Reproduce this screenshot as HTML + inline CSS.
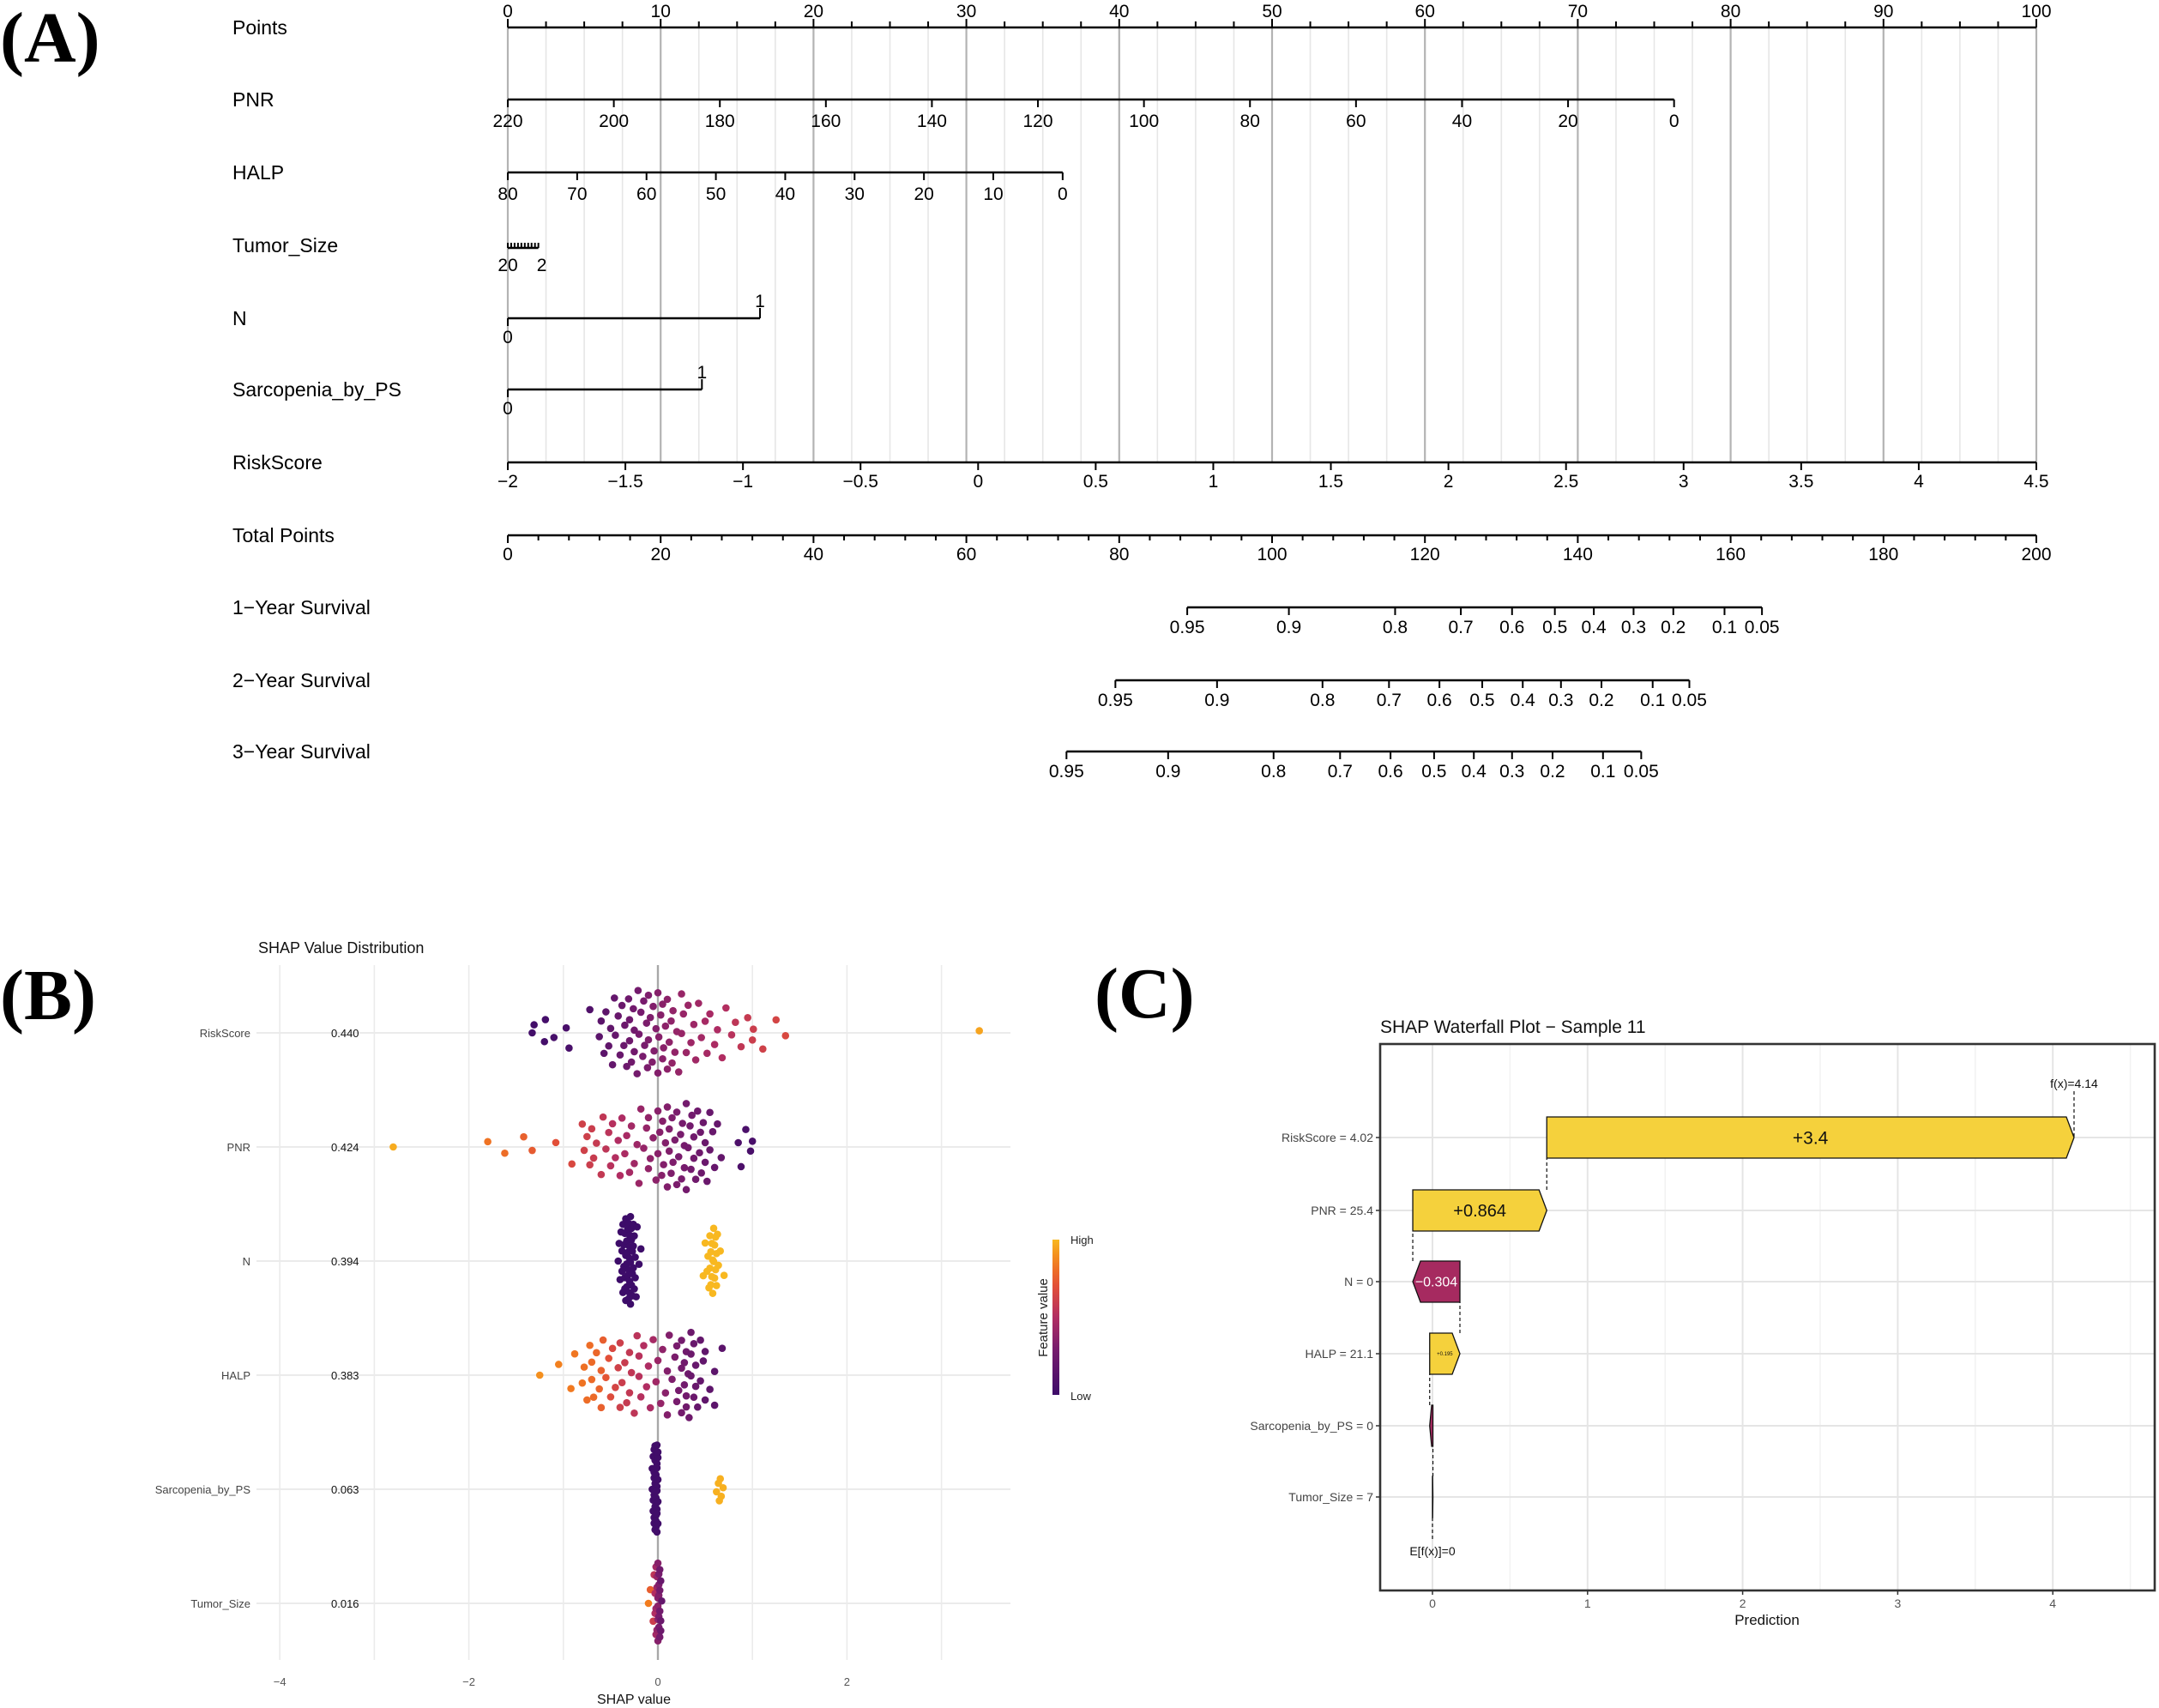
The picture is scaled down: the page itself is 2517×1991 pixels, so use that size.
<!DOCTYPE html>
<html><head><meta charset="utf-8"><style>
html,body{margin:0;padding:0;background:#fff;}
svg{display:block;font-family:"Liberation Sans",Arial,sans-serif;}
</style></head><body>
<svg id="fig" width="2517" height="1991" viewBox="0 0 2517 1991" xmlns="http://www.w3.org/2000/svg">
<rect width="2517" height="1991" fill="#fff"/>
<g id="panelA"></g>
<g id="panelB"></g>
<g id="panelC"></g>
</svg>
<script>
// ===== Panel A data =====
const pointsTicks = [0,10,20,30,40,50,60,70,80,90,100];
const pnrTicks = [220,200,180,160,140,120,100,80,60,40,20,0];
const pnrMax = 220, pnrMaxPts = 76.3;
const halpTicks = [80,70,60,50,40,30,20,10,0];
const halpMax = 80, halpMaxPts = 36.3;
const tumorTicks = [20,18,16,14,12,10,8,6,4,2];
const tumorLabels = ["20","2"];
const tumorMaxPts = 2.0;
const nPts = [0,16.5];
const nLabels = ["0","1"];
const sarcPts = [0,12.7];
const sarcLabels = ["0","1"];
const riskTicks = [-2,-1.5,-1,-0.5,0,0.5,1,1.5,2,2.5,3,3.5,4,4.5];
const totalTicks = [0,20,40,60,80,100,120,140,160,180,200];
const survLabels = ["0.95","0.9","0.8","0.7","0.6","0.5","0.4","0.3","0.2","0.1","0.05"];
const surv1Total = [88.9,102.2,116.1,124.7,131.4,137.0,142.1,147.3,152.5,159.2,164.1];
const surv2Total = [79.5,92.8,106.6,115.3,121.9,127.5,132.8,137.8,143.1,149.8,154.6];
const surv3Total = [73.1,86.4,100.2,108.9,115.5,121.2,126.4,131.4,136.7,143.3,148.3];

// ===== Panel B data =====
const featNames = ["RiskScore","PNR","N","HALP","Sarcopenia_by_PS","Tumor_Size"];
const featImportance = ["0.440","0.424","0.394","0.383","0.063","0.016"];
const bTicks = [-4,-2,0,2];
const rsShap = [-1.33,-1.31,-1.2,-1.19,-1.1,-0.97,-0.94,-0.72,-0.62,-0.6,
-0.57,-0.55,-0.52,-0.5,-0.48,-0.46,-0.45,-0.42,-0.4,-0.38,
-0.36,-0.35,-0.33,-0.31,-0.3,-0.28,-0.26,-0.25,-0.22,-0.21,
-0.2,-0.18,-0.16,-0.14,-0.12,-0.11,-0.1,-0.08,-0.06,-0.04,
-0.02,0,0.01,0.03,0.05,0.06,0.08,0.1,0.12,0.14,
0.16,0.18,0.2,0.22,0.25,0.27,0.3,0.32,0.35,0.38,
0.4,0.43,0.46,0.5,0.52,0.55,0.6,0.63,0.68,0.72,
0.78,0.82,0.88,0.95,1.0,1.01,1.11,1.25,1.35,3.4,
-0.3,-0.15,-0.05,0.05,0.15,0.25,-0.25,0.1,-0.1,0.0];
const rsFv = [.03,.03,.04,.04,.05,.06,.06,.1,.15,.15,
.16,.17,.18,.18,.2,.2,.2,.22,.22,.23,
.23,.24,.24,.25,.25,.26,.27,.27,.28,.28,
.29,.29,.3,.3,.31,.31,.32,.32,.33,.33,
.34,.34,.35,.35,.36,.36,.37,.37,.38,.38,
.39,.39,.4,.4,.41,.41,.42,.42,.43,.43,
.44,.44,.45,.46,.46,.47,.48,.49,.5,.51,
.53,.55,.56,.58,.6,.6,.62,.64,.66,.95,
.25,.3,.33,.36,.39,.41,.26,.37,.32,.35];
const pnrShap = [-2.8,-1.8,-1.62,-1.42,-1.33,-1.08,-0.91,-0.8,-0.78,-0.75,
-0.72,-0.7,-0.68,-0.65,-0.6,-0.58,-0.55,-0.52,-0.5,-0.48,
-0.45,-0.42,-0.4,-0.38,-0.35,-0.33,-0.3,-0.28,-0.25,-0.22,
-0.2,-0.18,-0.15,-0.12,-0.1,-0.08,-0.05,-0.02,0,0.02,
0.04,0.06,0.08,0.1,0.12,0.14,0.16,0.18,0.2,0.22,
0.24,0.26,0.28,0.3,0.32,0.34,0.36,0.38,0.4,0.42,
0.44,0.46,0.48,0.5,0.52,0.55,0.58,0.6,0.63,0.67,
0.85,0.88,0.93,0.98,1.0,0.1,0.2,0.3,0.0,-0.1,
0.05,0.15,0.25,0.35,0.45,0.55,0.12,0.28,0.38,0.5];
const pnrFv = [.97,.82,.8,.76,.74,.7,.66,.62,.62,.61,
.6,.6,.59,.58,.57,.56,.55,.54,.53,.52,
.51,.5,.5,.49,.48,.47,.46,.45,.44,.43,
.42,.41,.4,.4,.39,.38,.37,.37,.36,.35,
.35,.34,.34,.33,.33,.32,.32,.31,.31,.3,
.3,.29,.29,.28,.28,.27,.27,.26,.26,.25,
.25,.24,.24,.23,.23,.22,.22,.21,.21,.2,
.08,.08,.07,.06,.06,.34,.31,.28,.36,.39,
.35,.32,.3,.27,.25,.22,.33,.29,.26,.23];
const nShap = [-0.42,-0.4,-0.38,-0.37,-0.36,-0.35,-0.34,-0.33,-0.32,-0.31,
-0.3,-0.3,-0.29,-0.28,-0.27,-0.26,-0.25,-0.24,-0.23,-0.22,
-0.41,-0.39,-0.37,-0.35,-0.33,-0.31,-0.29,-0.27,-0.25,-0.2,
-0.36,-0.34,-0.32,-0.3,-0.28,-0.26,-0.34,-0.3,-0.28,-0.32,
-0.38,-0.33,-0.31,-0.29,-0.27,-0.24,-0.35,-0.3,-0.26,-0.18,
0.48,0.5,0.52,0.54,0.55,0.56,0.57,0.58,0.59,0.6,
0.61,0.62,0.63,0.64,0.66,0.56,0.58,0.6,0.62,0.53,
0.57,0.59,0.61,0.55,0.7];
const nFv = [0,0,0,0,0,0,0,0,0,0, 0,0,0,0,0,0,0,0,0,0, 0,0,0,0,0,0,0,0,0,0,
0,0,0,0,0,0,0,0,0,0, 0,0,0,0,0,0,0,0,0,0,
1,1,1,1,1,1,1,1,1,1, 1,1,1,1,1,1,1,1,1,1, 1,1,1,1,1];
const halpShap = [-1.25,-1.05,-0.92,-0.88,-0.8,-0.78,-0.75,-0.72,-0.7,-0.68,
-0.65,-0.62,-0.6,-0.58,-0.55,-0.52,-0.5,-0.48,-0.45,-0.42,
-0.4,-0.38,-0.35,-0.33,-0.3,-0.28,-0.25,-0.22,-0.2,-0.18,
-0.15,-0.12,-0.1,-0.08,-0.05,-0.02,0,0.03,0.05,0.08,
0.1,0.12,0.15,0.18,0.2,0.22,0.25,0.28,0.3,0.32,
0.35,0.38,0.4,0.42,0.45,0.48,0.5,0.55,0.6,0.68,
0.2,0.25,0.3,0.35,0.4,0.3,0.33,0.28,0.38,0.45,
-0.3,-0.6,-0.7,-0.4,-0.2,0.1,0.5,0.6,0.25,0.35];
const halpFv = [.9,.86,.84,.83,.82,.81,.8,.8,.79,.79,
.78,.77,.76,.75,.72,.7,.68,.66,.64,.62,
.61,.6,.59,.58,.57,.56,.55,.54,.53,.52,
.51,.5,.49,.48,.46,.44,.42,.4,.38,.36,
.34,.33,.32,.31,.3,.29,.28,.27,.26,.25,
.24,.23,.22,.21,.2,.19,.18,.17,.16,.15,
.3,.28,.26,.23,.21,.27,.25,.27,.22,.2,
.57,.76,.79,.61,.53,.34,.18,.16,.28,.24];
const sarcShap = [-0.06,-0.05,-0.05,-0.04,-0.04,-0.04,-0.03,-0.03,-0.03,-0.03,
-0.02,-0.02,-0.02,-0.02,-0.02,-0.01,-0.01,-0.01,-0.01,-0.01,
0,0,0,0,-0.05,-0.04,-0.03,-0.02,-0.01,0,
-0.06,-0.04,-0.03,-0.02,-0.01,-0.03,-0.02,-0.04,-0.01,-0.02,
0.62,0.64,0.65,0.66,0.67,0.69];
const sarcFv = [.02,.02,.02,.02,.02,.02,.02,.02,.02,.02, .02,.02,.02,.02,.02,.02,.02,.02,.02,.02,
.02,.02,.02,.02,.02,.02,.02,.02,.02,.02, .02,.02,.02,.02,.02,.02,.02,.02,.02,.02,
.98,.98,.98,.98,.98,.98];
const tumorShap = [-0.1,-0.08,-0.05,-0.04,-0.03,-0.02,-0.02,-0.01,-0.01,0,
0,0,0.01,0.01,0.02,0.02,0.03,0.03,0.04,0.01,
-0.01,0,0.02,-0.02,0.01,0,0.03,-0.03,0.02,0.01];
const tumorFv = [.85,.75,.6,.55,.5,.45,.45,.42,.4,.38,
.36,.35,.32,.3,.28,.26,.24,.22,.2,.3,
.42,.35,.27,.44,.3,.37,.23,.5,.28,.33];

// ===== Panel C data =====
const wfLabels = ["RiskScore = 4.02","PNR = 25.4","N = 0","HALP = 21.1","Sarcopenia_by_PS = 0","Tumor_Size = 7"];
const wfValues = [3.4,0.864,-0.304,0.195,-0.021,0.003];
const wfText = ["+3.4","+0.864","\u22120.304","+0.195","",""];
const wfBase = 0;
const wfTicks = [0,1,2,3,4];

const NS="http://www.w3.org/2000/svg";
function mk(parent, tag, attrs, text){
  const e=document.createElementNS(NS,tag);
  for(const k in attrs) e.setAttribute(k,attrs[k]);
  if(text!==undefined) e.textContent=text;
  parent.appendChild(e); return e;
}
const A=document.getElementById('panelA');
const B=document.getElementById('panelB');
const C=document.getElementById('panelC');

// ================= PANEL A =================
const px0=592, px1=2374;
function xPts(p){return px0+(px1-px0)*p/100;}
function xTot(t){return px0+(px1-px0)*t/200;}
function xRisk(v){return px0+(px1-px0)*(v+2)/6.5;}
let t;
t=mk(A,'text',{x:0,y:72,'font-family':'"Liberation Serif",serif','font-weight':'bold','font-size':84,fill:'#000'},'(A)');



for(let p=0;p<=100.01;p+=2.5){
  const maj=Math.abs(p%10)<0.01;
  const l=mk(A,'line',{x1:xPts(p),x2:xPts(p),y1:32,y2:539,stroke:maj?'#b3b3b3':'#e6e6e6','stroke-width':maj?2.2:1.6});
  
  
}
const rowLabels=[["Points",32],["PNR",116],["HALP",201],["Tumor_Size",286],["N",371],["Sarcopenia_by_PS",454],["RiskScore",539],["Total Points",624],["1\u2212Year Survival",708],["2\u2212Year Survival",793],["3\u2212Year Survival",876]];
rowLabels.forEach(r=>{
  const e=mk(A,'text',{x:271,y:r[1]+8,'font-size':23,fill:'#000'},r[0]);
  
  
});
function axisLine(x1,x2,y,name){
  const l=mk(A,'line',{x1:x1,x2:x2,y1:y,y2:y,stroke:'#000','stroke-width':2.6});
  
  
}
function tick(x,y,len){mk(A,'line',{x1:x,x2:x,y1:y,y2:y+len,stroke:'#000','stroke-width':2});}
function lab(x,y,s,name){
  const e=mk(A,'text',{x:x,y:y,'font-size':21,'text-anchor':'middle',fill:'#000'},s);
  
  
}
axisLine(px0,px1,32,'points-axis');
for(let p=0;p<=100.01;p+=2.5){tick(xPts(p),32,Math.abs(p%10)<0.01?-10:-7);}
pointsTicks.forEach(p=>lab(xPts(p),20,String(p),'points-tick-label'));
axisLine(xPts(0),xPts(pnrMaxPts),116,'pnr-axis');
pnrTicks.forEach(v=>{const x=xPts((pnrMax-v)/pnrMax*pnrMaxPts);tick(x,116,9);lab(x,148,String(v),'pnr-tick-label');});
axisLine(xPts(0),xPts(halpMaxPts),201,'halp-axis');
halpTicks.forEach(v=>{const x=xPts((halpMax-v)/halpMax*halpMaxPts);tick(x,201,9);lab(x,233,String(v),'halp-tick-label');});
axisLine(xPts(0),xPts(tumorMaxPts),289,'tumor-size-axis');
tumorTicks.forEach(v=>{const x=xPts((20-v)/18*tumorMaxPts);tick(x,283,6);});
lab(xPts(0),316,tumorLabels[0],'tumor-size-tick-label');
lab(xPts(tumorMaxPts)+4,316,tumorLabels[1],'tumor-size-tick-label');
axisLine(xPts(nPts[0]),xPts(nPts[1]),371,'n-axis');
tick(xPts(nPts[0]),371,9);tick(xPts(nPts[1]),371,-12);
lab(xPts(nPts[0]),400,nLabels[0],'n-tick-label');lab(xPts(nPts[1]),358,nLabels[1],'n-tick-label');
axisLine(xPts(sarcPts[0]),xPts(sarcPts[1]),454,'sarcopenia-axis');
tick(xPts(sarcPts[0]),454,9);tick(xPts(sarcPts[1]),454,-12);
lab(xPts(sarcPts[0]),483,sarcLabels[0],'sarcopenia-tick-label');lab(xPts(sarcPts[1]),441,sarcLabels[1],'sarcopenia-tick-label');
axisLine(px0,px1,539,'riskscore-axis');
riskTicks.forEach(v=>{const x=xRisk(v);tick(x,539,9);lab(x,568,v<0?'\u2212'+Math.abs(v):String(v),'riskscore-tick-label');});
axisLine(px0,px1,624,'total-points-axis');
for(let v=0;v<=200;v+=4){tick(xTot(v),624,v%20===0?9:6);}
totalTicks.forEach(v=>lab(xTot(v),653,String(v),'total-points-tick-label'));
[[surv1Total,708,'1-year'],[surv2Total,793,'2-year'],[surv3Total,876,'3-year']].forEach(s=>{
  const arr=s[0],y=s[1];
  axisLine(xTot(arr[0]),xTot(arr[arr.length-1]),y,'survival-axis-'+s[2]);
  arr.forEach((v,i)=>{const x=xTot(v);tick(x,y,9);lab(x,y+30,survLabels[i],'survival-tick-label-'+s[2]);});
});

// ================= PANEL B =================
function colorScale(v){
  const stops=[[0,[61,12,105]],[0.3,[120,28,109]],[0.5,[177,45,98]],[0.7,[226,79,56]],[0.85,[242,124,30]],[1,[248,184,32]]];
  v=Math.max(0,Math.min(1,v));
  for(let i=1;i<stops.length;i++){
    if(v<=stops[i][0]){
      const a=stops[i-1],b=stops[i],f=(v-a[0])/(b[0]-a[0]);
      const c=a[1].map((q,k)=>Math.round(q+(b[1][k]-q)*f));
      return 'rgb('+c.join(',')+')';
    }
  }
  return 'rgb(248,184,32)';
}
const bx0=767, bUnit=110.2;
function xB(v){return bx0+v*bUnit;}
const bRowY=[1204,1337,1470,1603,1736,1869];
t=mk(B,'text',{x:0,y:1188,'font-family':'"Liberation Serif",serif','font-weight':'bold','font-size':84,fill:'#000'},'(B)');


t=mk(B,'text',{x:301,y:1111,'font-size':18,fill:'#111'},'SHAP Value Distribution');


for(let v=-4;v<=3;v++){
  if(v===0) continue;
  const l=mk(B,'line',{x1:xB(v),x2:xB(v),y1:1125,y2:1935,stroke:'#ebebeb','stroke-width':1.6});
  
  
}
bRowY.forEach((y,i)=>{
  mk(B,'line',{x1:299,x2:1178,y1:y,y2:y,stroke:'#ebebeb','stroke-width':2});
  let e=mk(B,'text',{x:292,y:y+5,'font-size':13,'text-anchor':'end',fill:'#444'},featNames[i]);
  
  
  e=mk(B,'text',{x:386,y:y+5,'font-size':13,fill:'#111'},featImportance[i]);
  
  
});
t=mk(B,'line',{x1:xB(0),x2:xB(0),y1:1125,y2:1935,stroke:'#a8a8a8','stroke-width':2.4});


bTicks.forEach(v=>{
  const e=mk(B,'text',{x:xB(v),y:1965,'font-size':13,'text-anchor':'middle',fill:'#555'},v<0?'\u2212'+Math.abs(v):String(v));
  
  
});
t=mk(B,'text',{x:739,y:1986,'font-size':16,'text-anchor':'middle',fill:'#111'},'SHAP value');



// quasirandom (density-scaled van der Corput) layout
function vdc(n){let v=0,den=1;n=n+1;while(n>0){den*=2;v+=(n%2)/den;n=Math.floor(n/2);}return v;}
function swarm(shap,fv,yc,halfW,bw){
  const R=4.3;
  const dens=shap.map(x=>{let s=0;shap.forEach(y=>{const u=(x-y)/bw;s+=Math.exp(-0.5*u*u);});return s;});
  const maxD=Math.max(...dens);
  const idx=shap.map((v,i)=>i).sort((a,b)=>shap[a]-shap[b]);
  idx.forEach((i,k)=>{
    const off=(vdc(k)*2-1)*halfW*Math.sqrt(dens[i]/maxD);
    const d=mk(B,'circle',{cx:xB(shap[i]),cy:yc+off,r:R,fill:colorScale(fv[i])});
    
    
  });
}
swarm(rsShap,rsFv,bRowY[0],52,0.25);
swarm(pnrShap,pnrFv,bRowY[1],52,0.25);
swarm(nShap,nFv,bRowY[2],54,0.08);
swarm(halpShap,halpFv,bRowY[3],52,0.25);
swarm(sarcShap,sarcFv,bRowY[4],54,0.05);
swarm(tumorShap,tumorFv,bRowY[5],50,0.05);
// legend
const defs=mk(document.getElementById('fig'),'defs',{});
const lg=mk(defs,'linearGradient',{id:'cbar',x1:0,y1:1,x2:0,y2:0});
for(let s=0;s<=10;s++){mk(lg,'stop',{offset:(s/10),'stop-color':colorScale(s/10)});}
t=mk(B,'rect',{x:1227,y:1445,width:8,height:181,fill:'url(#cbar)'});


t=mk(B,'text',{x:1248,y:1450,'font-size':13,fill:'#222'},'High');


t=mk(B,'text',{x:1248,y:1632,'font-size':13,fill:'#222'},'Low');


t=mk(B,'text',{x:1221,y:1536,'font-size':15,'text-anchor':'middle',fill:'#222',transform:'rotate(-90 1221 1536)'},'Feature value');



// ================= PANEL C =================
const cx0=1670, cUnit=180.8;
function xC(v){return cx0+v*cUnit;}
const cRowY=[1326,1411,1494,1578,1662,1745];
const boxL=1609,boxR=2512,boxT=1217,boxB=1854;
t=mk(C,'text',{x:1276,y:1186,'font-family':'"Liberation Serif",serif','font-weight':'bold','font-size':84,fill:'#000'},'(C)');


t=mk(C,'text',{x:1609,y:1204,'font-size':21,fill:'#111'},'SHAP Waterfall Plot \u2212 Sample 11');


for(let v=-0.5;v<=4.51;v+=0.5){
  const maj=Math.abs(v-Math.round(v))<0.01;
  const x=xC(v); if(x<=boxL||x>=boxR) continue;
  const l=mk(C,'line',{x1:x,x2:x,y1:boxT,y2:boxB,stroke:maj?'#e5e5e5':'#f2f2f2','stroke-width':maj?2:1.5});
  
  
}
cRowY.forEach((y,i)=>{
  mk(C,'line',{x1:boxL,x2:boxR,y1:y,y2:y,stroke:'#e5e5e5','stroke-width':2});
  mk(C,'line',{x1:boxL-5,x2:boxL,y1:y,y2:y,stroke:'#333','stroke-width':1.5});
  const e=mk(C,'text',{x:boxL-8,y:y+5,'font-size':14,'text-anchor':'end',fill:'#444'},wfLabels[i]);
  
  
});
let cum=wfBase;
const starts=[],ends=[];
for(let i=wfValues.length-1;i>=0;i--){starts[i]=cum;cum+=wfValues[i];ends[i]=cum;}
const hh=24;
for(let i=wfValues.length-1;i>=0;i--){
  const y=cRowY[i],s=xC(starts[i]),e=xC(ends[i]);
  const w=Math.abs(e-s),tip=Math.min(9,w*0.6);
  let pts;
  if(wfValues[i]>=0){pts=[[s,y-hh],[e-tip,y-hh],[e,y],[e-tip,y+hh],[s,y+hh]];}
  else{pts=[[s,y-hh],[e+tip,y-hh],[e,y],[e+tip,y+hh],[s,y+hh]];}
  const p=mk(C,'polygon',{points:pts.map(q=>q.join(',')).join(' '),fill:wfValues[i]>=0?'#f5d13c':'#a62a60',stroke:'#111','stroke-width':1.3});
  
  
  if(wfText[i]){
    const fs=w>300?21:(w>100?20:(w>40?16:6));
    const tx=mk(C,'text',{x:(s+e)/2,y:y+fs*0.35,'font-size':fs,'text-anchor':'middle',fill:wfValues[i]>=0?'#111':'#fff'},wfText[i]);
    
    
  }
  if(i>0){
    const c=mk(C,'line',{x1:e,x2:e,y1:y-hh,y2:cRowY[i-1]+hh,stroke:'#111','stroke-width':1.2,'stroke-dasharray':'4,3'});
    
    
  }
}
t=mk(C,'line',{x1:xC(wfBase),x2:xC(wfBase),y1:cRowY[5]+hh,y2:1795,stroke:'#111','stroke-width':1.2,'stroke-dasharray':'4,3'});


t=mk(C,'text',{x:xC(wfBase),y:1813,'font-size':14,'text-anchor':'middle',fill:'#111'},'E[f(x)]=0');


const fx=ends[0];
t=mk(C,'line',{x1:xC(fx),x2:xC(fx),y1:1272,y2:cRowY[0],stroke:'#111','stroke-width':1.2,'stroke-dasharray':'4,3'});


t=mk(C,'text',{x:xC(fx),y:1268,'font-size':14,'text-anchor':'middle',fill:'#111'},'f(x)='+fx.toFixed(2));


t=mk(C,'rect',{x:boxL,y:boxT,width:boxR-boxL,height:boxB-boxT,fill:'none',stroke:'#333','stroke-width':2.6});


wfTicks.forEach(v=>{
  mk(C,'line',{x1:xC(v),x2:xC(v),y1:boxB,y2:boxB+5,stroke:'#333','stroke-width':1.5});
  const e=mk(C,'text',{x:xC(v),y:1874,'font-size':14,'text-anchor':'middle',fill:'#555'},String(v));
  
  
});
t=mk(C,'text',{x:2060,y:1894,'font-size':17,'text-anchor':'middle',fill:'#111'},'Prediction');


</script>
</body></html>
